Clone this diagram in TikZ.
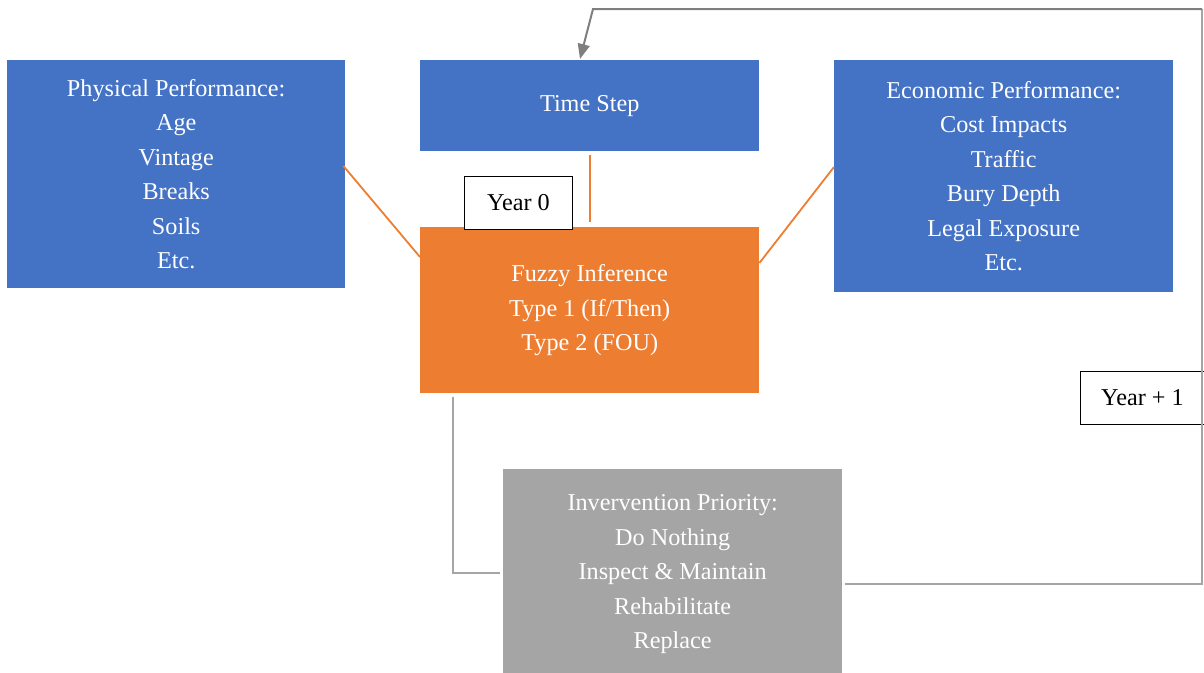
\documentclass[tikz,border=0pt]{standalone}
\usepackage{fontspec}
\setmainfont{Liberation Serif}
\usetikzlibrary{arrows.meta,calc}
\definecolor{oblue}{HTML}{4472C4}
\definecolor{oorange}{HTML}{ED7D31}
\definecolor{ogray}{HTML}{A5A5A5}
\definecolor{dgray}{HTML}{7F7F7F}
\begin{document}
\begin{tikzpicture}[x=1pt,y=-1pt,
  box/.style={anchor=north west, inner sep=0pt, align=center, text=white,
    font=\fontsize{24.2}{34.5}\selectfont},
  yearbox/.style={anchor=north west, inner sep=0pt, draw=black, line width=0.9pt, fill=white,
    text=black, font=\fontsize{24.2}{27}\selectfont},
  oline/.style={draw=oorange, line width=1.8pt},
  gline/.style={draw=ogray, line width=2pt},
  dline/.style={draw=dgray, line width=2pt}]
\useasboundingbox (0,0) rectangle (1204,672);
\node[box, fill=oblue, minimum width=338pt, minimum height=228pt] (phys) at (7,60)
  {Physical Performance:\\Age\\Vintage\\Breaks\\Soils\\Etc.};
\node[box, fill=oblue, minimum width=339pt, minimum height=91pt] (time) at (420,60)
  {Time Step};
\node[box, fill=oblue, minimum width=339pt, minimum height=232pt] (econ) at (834,60)
  {Economic Performance:\\Cost Impacts\\Traffic\\Bury Depth\\Legal Exposure\\Etc.};
\node[box, fill=oorange, minimum width=339pt, minimum height=166pt] (fuzzy) at (420,227)
  {Fuzzy Inference\\Type 1 (If/Then)\\Type 2 (FOU)};
\node[box, fill=ogray, minimum width=339pt, minimum height=210pt] (interv) at (503,469)
  {Invervention Priority:\\Do Nothing\\Inspect \& Maintain\\Rehabilitate\\Replace};
\node[yearbox, minimum width=108pt, minimum height=53pt] (y0) at (464,176) {Year 0};
\node[yearbox, minimum width=124pt, minimum height=53pt] (y1) at (1080,371) {Year + 1};
% orange connectors
\draw[oline] ([xshift=-2pt,yshift=-106pt]phys.north east) -- ([yshift=-30pt]fuzzy.north west);
\draw[oline] ([yshift=-36pt]fuzzy.north east) -- ([yshift=-107pt]econ.north west);
\draw[oline] ([xshift=170pt,yshift=-4pt]time.south west) -- ([xshift=170pt,yshift=5pt]fuzzy.north west);
% gray connector fuzzy -> intervention
\draw[gline] ([xshift=33pt,yshift=-4pt]fuzzy.south west) |- ([xshift=-3pt,yshift=1.5pt]interv.west);
% feedback loop
\coordinate (corner) at (1202,9);
\draw[gline] ([xshift=3pt,yshift=-9.5pt]interv.east) -| (corner);
\draw[dline, -{Triangle[length=15pt,width=12pt]}] (corner) -- (593,9) -- ([xshift=160pt,yshift=1pt]time.north west);
\end{tikzpicture}
\end{document}
